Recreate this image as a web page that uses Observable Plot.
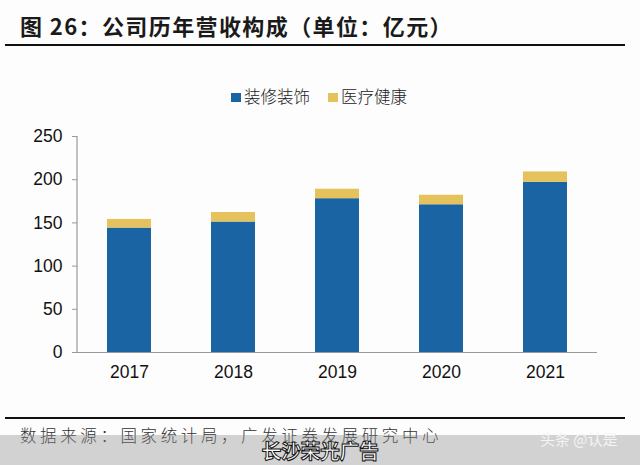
<!DOCTYPE html>
<html>
<head>
<meta charset="utf-8">
<script src="https://cdn.jsdelivr.net/npm/d3@7"></script>
<script src="https://cdn.jsdelivr.net/npm/@observablehq/plot@0.6"></script>
<style>
  html, body { margin: 0; padding: 0; background: #fdfdfd; }
  #wrap { position: relative; width: 640px; height: 465px; overflow: hidden; background: #fdfdfd;
          font-family: "Noto Sans CJK SC", "Liberation Sans", sans-serif; }
  #title { position: absolute; left: 20px; top: 9px; font-size: 22px; font-weight: 700; color: #1a1a1a;
           white-space: nowrap; letter-spacing: 1.4px; }
  #rule1 { position: absolute; left: 5px; width: 620px; top: 44px; height: 2px; background: #111; }
  #legend { position: absolute; top: 84px; left: 231px; font-size: 16.5px; color: #222; white-space: nowrap; font-weight: 300; }
  .sw { display: inline-block; width: 10px; height: 9px; margin-right: 3px; vertical-align: middle; position: relative; top: -1px; }
  .item { display: inline-block; margin-right: 18px; }
  #chart { position: absolute; left: 0; top: 120px; }
  #rule2 { position: absolute; left: 5px; width: 620px; top: 417px; height: 2px; background: #111; }
  #source { position: absolute; left: 20px; top: 423px; font-size: 16.5px; color: #333; letter-spacing: 3.6px;
            white-space: nowrap; font-weight: 300; }
  #band { position: absolute; left: 0; top: 435px; width: 640px; height: 30px; background: rgba(140,140,140,0.38); }
  #wm1 { position: absolute; left: 0; width: 640px; top: 440px; height: 22px; line-height: 21px; text-align: center; font-size: 20px; font-weight: 700;
         color: #fff; -webkit-text-stroke: 1px #111; letter-spacing: -0.5px; }
  #wm2 { position: absolute; left: 540px; top: 428px; font-size: 15px; color: #f4f4f4; white-space: nowrap; }
</style>
</head>
<body>
<div id="wrap">
  <div id="title">图 26：公司历年营收构成（单位：亿元）</div>
  <div id="rule1"></div>
  <div id="legend"></div>
  <div id="chart"></div>
  <div id="rule2"></div>
  <div id="source">数据来源：国家统计局，广发证券发展研究中心</div>
  <div id="band"></div>
  <div id="wm1">长沙荣光广告</div>
  <div id="wm2">头条 @认是</div>
</div>
<script>
const years = ["2017", "2018", "2019", "2020", "2021"];
const seriesNames = ["装修装饰", "医疗健康"];
const decoration = [144, 151, 178, 171, 197];
const health = [10, 11, 11, 11, 12];
const seriesColors = ["#1b64a4", "#e6c25c"];
const yTicks = [0, 50, 100, 150, 200, 250];

const data = [];
years.forEach((y, i) => data.push({year: y, series: seriesNames[0], value: decoration[i]}));
years.forEach((y, i) => data.push({year: y, series: seriesNames[1], value: health[i]}));

// legend
const legend = document.getElementById("legend");
seriesNames.forEach((name, i) => {
  const span = document.createElement("span");
  span.className = "item";
  span.innerHTML = `<span class="sw" style="background:${seriesColors[i]}"></span>${name}`;
  legend.appendChild(span);
});

const chart = Plot.plot({
  width: 640,
  height: 270,
  marginTop: 16,
  marginBottom: 38,
  marginLeft: 77,
  marginRight: 43,
  style: {fontFamily: "'Liberation Sans', Arial, sans-serif", fontSize: "17.5px", color: "#111", background: "transparent"},
  x: {domain: years, paddingInner: 0.577, paddingOuter: 0.2885, label: null},
  y: {domain: [0, 250], label: null},
  color: {domain: seriesNames, range: seriesColors},
  marks: [
    Plot.barY(data, {x: "year", y: "value", fill: "series"}),
    Plot.axisY({ticks: yTicks, tickSize: 5, tickPadding: 10, stroke: "#999", fill: "#111", label: null}),
    Plot.axisX({tickSize: 0, tickPadding: 13, fill: "#111", label: null}),
    Plot.ruleY([0], {stroke: "#999", strokeWidth: 1.2})
  ]
});
document.getElementById("chart").appendChild(chart);

// vertical y-axis line along the left edge of the plot area, using the y scale
const yScale = chart.scale("y");
const svg = d3.select(chart);
svg.append("line")
  .attr("x1", 77).attr("x2", 77)
  .attr("y1", yScale.apply(250)).attr("y2", yScale.apply(0))
  .attr("stroke", "#999").attr("stroke-width", 1.2);
</script>
</body>
</html>
